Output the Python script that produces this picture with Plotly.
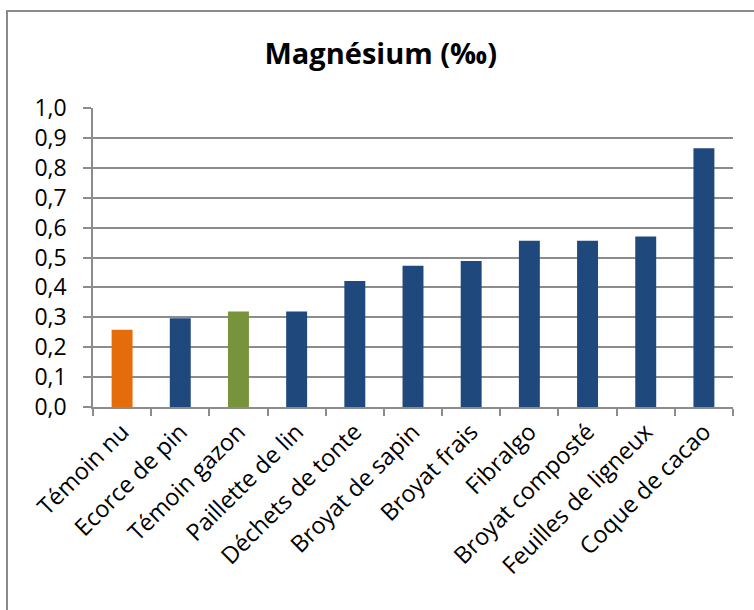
import plotly.graph_objects as go

# Magnesium content per mulch treatment
categories = ["Témoin nu", "Ecorce de pin", "Témoin gazon", "Paillette de lin",
              "Déchets de tonte", "Broyat de sapin", "Broyat frais", "Fibralgo",
              "Broyat composté", "Feuilles de ligneux", "Coque de cacao"]
magnesium = [0.258, 0.297, 0.319, 0.319, 0.421, 0.472, 0.488, 0.556, 0.556, 0.570, 0.865]
bar_colors = ["#E46C0A", "#1F497D", "#77933C", "#1F497D", "#1F497D", "#1F497D",
              "#1F497D", "#1F497D", "#1F497D", "#1F497D", "#1F497D"]
y_ticks = [i / 10 for i in range(11)]

W, H = 754, 610
L, R, T, B = 93, 21, 108, 203
pw, ph = W - L - R, H - T - B

FONT = "Open Sans, Calibri, sans-serif"
GRID = "#8c8c8c"

fig = go.Figure(go.Bar(
    x=categories, y=magnesium,
    marker=dict(color=bar_colors, line=dict(width=0)),
    width=0.36,
))

fig.update_layout(
    width=W, height=H,
    margin=dict(l=L, r=R, t=T, b=B),
    paper_bgcolor="white", plot_bgcolor="white",
    separators=", ",
    showlegend=False,
    title=dict(text="<b>Magnésium (‰)</b>", x=0.505, xref="container", xanchor="center",
               y=1 - 54 / H, yanchor="middle",
               font=dict(family=FONT, size=29, color="#000000")),
    font=dict(family=FONT, color="#000000"),
)

fig.update_xaxes(
    tickangle=-45, tickfont=dict(size=23.5, family=FONT, color="#000000"),
    tickson="boundaries", ticks="outside", ticklen=7, tickcolor=GRID, tickwidth=1.5,
    showline=True, linecolor=GRID, linewidth=1.5, showgrid=False, automargin=False,
)
fig.update_yaxes(
    range=[0, 1.0], tickvals=y_ticks, tickformat=".1f",
    tickfont=dict(size=23, family=FONT, color="#000000"),
    ticks="outside", ticklen=8, tickcolor=GRID, tickwidth=1.5, ticklabelstandoff=12,
    showline=True, linecolor=GRID, linewidth=1.5, automargin=False,
    showgrid=True, gridcolor=GRID, gridwidth=1.5, zeroline=False,
)

# Outer chart frame (extends past the right and bottom edges)
fig.add_shape(type="rect", xref="paper", yref="paper",
              x0=(7 - L) / pw, x1=(W + 10 - L) / pw,
              y0=-(H + 10 - T - ph) / ph, y1=(H - B - 11) / ph,
              line=dict(color="#8a8a8a", width=2), fillcolor="rgba(0,0,0,0)", layer="below")

fig.write_html("out.html")
